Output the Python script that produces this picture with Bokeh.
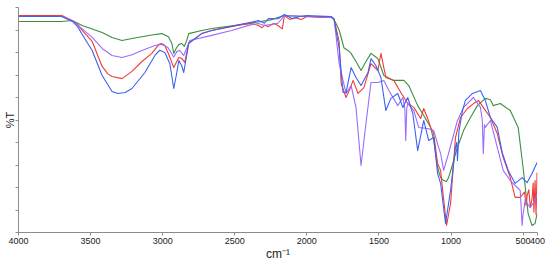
from bokeh.plotting import figure
from bokeh.models import Range1d, FixedTicker
from bokeh.embed import file_html
from bokeh.resources import INLINE

# wavenumber (cm-1), %T (arbitrary scale)
green = [(4000, 93.8), (3700, 93.8), (3627, 94.2), (3558, 92.0), (3420, 88.9), (3351, 86.7), (3282, 85.3),
         (3213, 86.2), (3075, 87.8), (3006, 88.4), (2960, 87.0), (2936, 84.0), (2923, 79.6), (2905, 82.0),
         (2888, 83.5), (2867, 84.0), (2850, 82.7), (2835, 85.0), (2819, 88.4), (2729, 89.8), (2660, 90.7),
         (2453, 92.4), (2363, 93.3), (2250, 94.5), (2156, 96.4), (2000, 96.0), (1832, 96.0), (1811, 94.7),
         (1776, 90.0), (1742, 82.0), (1714, 80.9), (1693, 79.6), (1659, 76.0), (1624, 72.0), (1590, 76.0),
         (1555, 79.6), (1521, 78.0), (1507, 77.3), (1466, 69.8), (1397, 67.6), (1327, 67.6), (1293, 65.3),
         (1231, 56.4), (1189, 52.0), (1141, 46.7), (1120, 40.9), (1093, 28.9), (1072, 24.4), (1051, 23.1),
         (1031, 22.7), (1017, 24.4), (990, 30.0), (969, 35.0), (955, 37.8), (913, 45.3), (865, 51.1),
         (817, 56.4), (762, 59.6), (727, 59.0), (707, 56.4), (658, 57.3), (589, 54.2), (534, 46.7),
         (500, 28.9), (465, 8.4), (438, 3.1), (417, 4.0), (403, 8.4)]

red = [(4000, 96.4), (3700, 96.4), (3627, 94.2), (3590, 92.5), (3558, 89.8), (3489, 84.9), (3420, 73.8),
       (3380, 70.5), (3351, 69.3), (3282, 68.4), (3213, 71.6), (3144, 76.0), (3075, 79.6), (3026, 83.6),
       (3006, 84.0), (2985, 83.1),
       (2957, 79.0), (2923, 73.3), (2888, 77.8), (2867, 77.3), (2847, 75.6), (2819, 84.4), (2729, 88.4),
       (2660, 89.8), (2453, 92.4), (2384, 92.9), (2336, 92.0), (2310, 91.0), (2294, 92.2), (2267, 91.5),
       (2230, 92.9), (2200, 92.0), (2170, 90.5), (2156, 96.4), (2120, 94.7), (2080, 95.5), (2039, 94.7),
       (2000, 96.0), (1900, 95.6), (1832, 95.6), (1811, 94.7), (1776, 85.0), (1762, 66.2), (1728, 60.0),
       (1700, 64.0), (1679, 67.6), (1645, 61.8), (1604, 64.4), (1555, 75.1), (1507, 72.0), (1486, 79.6),
       (1452, 68.9), (1397, 67.6), (1348, 62.2), (1300, 57.3), (1258, 55.6), (1210, 50.7), (1189, 55.1),
       (1162, 50.7), (1141, 46.7), (1120, 44.0), (1093, 30.7), (1072, 27.6), (1058, 18.7), (1031, 3.1),
       (1003, 12.9), (969, 42.2), (934, 51.1), (886, 55.1), (844, 57.3), (810, 58.7), (776, 55.6),
       (727, 51.1), (679, 44.0), (638, 33.3), (589, 24.4), (555, 15.6), (520, 15.6), (490, 18.0),
       (480, 12.0), (472, 16.4), (460, 19.0), (450, 11.0), (438, 15.1), (430, 22.0), (425, 9.0),
       (417, 23.1), (410, 8.0), (403, 26.7)]

violet = [(4000, 96.0), (3700, 96.0), (3627, 94.2), (3558, 90.5), (3489, 86.7), (3420, 81.8), (3351, 78.7),
          (3282, 77.8), (3213, 79.0), (3144, 80.9), (3054, 83.1), (3006, 83.6), (2964, 82.2), (2923, 78.0),
          (2900, 80.5), (2881, 80.9), (2854, 78.7), (2812, 85.3), (2660, 87.6), (2522, 89.8), (2384, 92.4),
          (2336, 92.9), (2294, 92.0), (2200, 93.0), (2156, 96.4), (2000, 96.0), (1832, 95.6), (1811, 95.1),
          (1776, 75.1), (1728, 61.8), (1693, 65.3), (1659, 55.6), (1624, 29.8), (1590, 48.4), (1555, 66.7),
          (1507, 66.7), (1466, 67.6), (1431, 63.1), (1369, 56.4), (1334, 60.0), (1320, 55.0), (1314, 40.9),
          (1307, 55.0), (1300, 57.3), (1258, 54.2), (1224, 46.7), (1162, 46.2), (1120, 45.3), (1086, 37.8),
          (1072, 35.1), (1051, 27.6), (1017, 35.1), (955, 49.8), (913, 55.6), (844, 60.0), (796, 55.6),
          (783, 50.0), (776, 35.0), (768, 48.0), (762, 46.7), (727, 49.8), (679, 37.8), (638, 27.6),
          (589, 23.1), (541, 20.0), (520, 18.7), (512, 10.0), (507, 3.1), (500, 8.0), (486, 14.2),
          (451, 11.1), (417, 14.2), (403, 17.3)]

blue = [(4000, 96.0), (3700, 96.0), (3627, 93.8), (3590, 91.5), (3558, 88.0), (3489, 80.9), (3420, 69.8),
        (3351, 62.7), (3310, 61.8), (3260, 62.2), (3213, 64.0), (3123, 71.1), (3054, 78.7), (3020, 81.0),
        (2985, 80.0), (2950, 75.0),
        (2923, 64.0), (2905, 70.0), (2888, 76.4), (2867, 74.0), (2854, 71.1), (2819, 84.0), (2729, 88.4),
        (2660, 89.8), (2432, 92.9), (2380, 93.5), (2336, 94.2), (2294, 93.0), (2267, 95.1), (2200, 95.0),
        (2156, 96.9), (2100, 95.0), (2050, 96.0), (2000, 96.4), (1832, 96.0), (1811, 94.7), (1776, 82.0),
        (1749, 62.2), (1728, 62.2), (1693, 73.3), (1659, 68.9), (1624, 65.3), (1576, 71.1), (1555, 77.3),
        (1521, 74.2), (1486, 68.9), (1452, 54.2), (1417, 59.6), (1369, 61.8), (1334, 55.6), (1300, 60.0),
        (1265, 52.9), (1231, 36.4), (1189, 49.8), (1155, 40.9), (1120, 42.2), (1093, 26.2), (1072, 21.8),
        (1038, 4.0), (1003, 18.7), (969, 37.8), (960, 40.0), (955, 32.0), (945, 45.0), (920, 54.2),
        (900, 58.7), (851, 61.8), (796, 63.1), (762, 58.7), (727, 51.1), (679, 46.7), (645, 35.6),
        (603, 27.6), (555, 21.8), (507, 24.4), (472, 22.2), (438, 26.2), (403, 31.1)]

x_ticks = [4000, 3500, 3000, 2500, 2000, 1500, 1000, 500, 400]
y_ticks = [0, 10, 20, 30, 40, 50, 60, 70, 80, 90, 100]

series = [(green, "#3d8f3d"), (red, "#f23a3a"), (violet, "#9b6cff"), (blue, "#3d62f0")]

FONT = "Liberation Sans"

p = figure(width=550, height=263, output_backend="svg", toolbar_location=None,
           x_range=Range1d(4000, 400), y_range=Range1d(0, 100),
           min_border_left=16, min_border_right=13, min_border_top=7, min_border_bottom=31)
p.outline_line_color = None
p.xgrid.visible = False
p.ygrid.visible = False

for data, col in series:
    xs = [d[0] for d in data]
    ys = [d[1] for d in data]
    p.line(xs, ys, line_color=col, line_width=1.1, line_join="round")

p.xaxis.ticker = FixedTicker(ticks=x_ticks)
p.xaxis.minor_tick_line_color = None
p.xaxis.major_tick_out = 3
p.xaxis.major_tick_in = 0
p.xaxis.axis_line_color = "#8c8c8c"
p.xaxis.major_tick_line_color = "#8c8c8c"
p.xaxis.major_label_text_font = FONT
p.xaxis.major_label_text_font_size = "9px"
p.xaxis.major_label_text_color = "#222222"
p.xaxis.major_label_standoff = 2
p.xaxis.axis_label = "cm⁻¹"
p.xaxis.axis_label_text_font = FONT
p.xaxis.axis_label_text_font_size = "12px"
p.xaxis.axis_label_text_font_style = "normal"
p.xaxis.axis_label_text_color = "#222222"
p.xaxis.axis_label_standoff = 0

p.yaxis.ticker = FixedTicker(ticks=y_ticks)
p.yaxis.minor_tick_line_color = None
p.yaxis.major_tick_out = 3
p.yaxis.major_tick_in = 0
p.yaxis.axis_line_color = "#8c8c8c"
p.yaxis.major_tick_line_color = "#8c8c8c"
p.yaxis.major_label_text_font_size = "0px"
p.yaxis.major_label_standoff = 0
p.yaxis.major_label_overrides = {t: "" for t in y_ticks}
p.yaxis.axis_label = "%T"
p.yaxis.axis_label_text_font = FONT
p.yaxis.axis_label_text_font_size = "11px"
p.yaxis.axis_label_text_font_style = "normal"
p.yaxis.axis_label_text_color = "#222222"
p.yaxis.axis_label_standoff = 0

open("out.html", "w").write(file_html(p, INLINE))
